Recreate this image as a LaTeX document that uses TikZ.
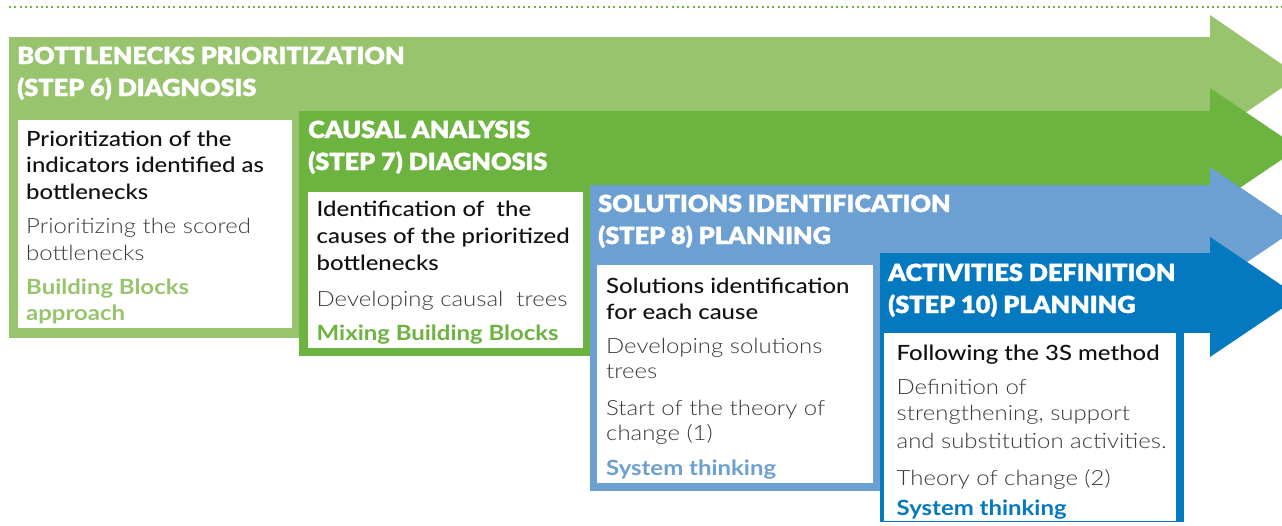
\documentclass[tikz,border=0pt]{standalone}
\usepackage{fontspec}
\setmainfont{Lato}
\newfontfamily\heavyfont{Lato Black}[FakeStretch=1.075,FakeBold=1.3]
\newfontfamily\lightfont{Lato Light}[FakeStretch=1.14]
\newfontfamily\medfont{Lato Medium}[FakeStretch=1.14]
\newfontfamily\boldfont{Lato Bold}[FakeStretch=1.14]
\definecolor{lg}{HTML}{98C46D}
\definecolor{dg}{HTML}{6DB33F}
\definecolor{lb}{HTML}{6CA0D2}
\definecolor{db}{HTML}{0479BF}
\definecolor{txt}{HTML}{111111}
\definecolor{dsc}{HTML}{3A3A3A}
\tikzset{
  hdr/.style={font=\heavyfont\fontsize{23.5}{28}\selectfont, text=white, anchor=base west, inner sep=0pt},
  ttl/.style={font=\medfont\fontsize{21}{26}\selectfont, text=txt, anchor=base west, inner sep=0pt},
  desc/.style={font=\lightfont\fontsize{21}{26}\selectfont, text=dsc, anchor=base west, inner sep=0pt},
  keyw/.style={font=\boldfont\fontsize{21}{26}\selectfont, anchor=base west, inner sep=0pt},
  whitebox/.style={fill=white, draw=none}
}
\begin{document}
\begin{tikzpicture}[x=1pt,y=-1pt]
\useasboundingbox (0,0) rectangle (1282,525);
\clip (0,0) rectangle (1282,525);
% dotted line
\draw[dg, line width=2pt, dash pattern=on 2pt off 3.3pt] (9,7) -- (1282,7);
% arrow 1
\fill[lg] (9,37) rectangle (1210,111);
\fill[lg] (9,37) rectangle (299,338);
\fill[lg] (1210,15) -- (1299,76) -- (1210,137) -- cycle;
\fill[whitebox] (18,120) rectangle (292,328);
% arrow 2
\fill[dg] (299,111) rectangle (1210,186);
\fill[dg] (299,111) rectangle (590,356);
\fill[dg] (1210,88) -- (1299,148) -- (1210,208) -- cycle;
\fill[whitebox] (308,192) rectangle (583,348);
% arrow 3
\fill[lb] (590,185) rectangle (1210,254);
\fill[lb] (590,185) rectangle (880,491);
\fill[lb] (1210,167) -- (1299,227) -- (1210,287) -- cycle;
\fill[whitebox] (597,265) rectangle (873,483);
% arrow 4
\fill[db] (880,253) rectangle (1210,333);
\fill[db] (880,253) rectangle (1184,522);
\fill[db] (1210,237) -- (1299,297) -- (1210,357) -- cycle;
\fill[whitebox] (884,333) rectangle (1176,520.5);
% panel 1 text
\node[hdr] (h1a) at (17,64) {BOTTLENECKS PRIORITIZATION};
\node[hdr] (h1b) at (17,96) {(STEP 6) DIAGNOSIS};
\node[ttl] (t1a) at (26,146) {Prioritization of the};
\node[ttl] (t1b) at (26,172.5) {indicators identified as};
\node[ttl] (t1c) at (26,199) {bottlenecks};
\node[desc] (d1a) at (26,233.5) {Prioritizing the scored};
\node[desc] (d1b) at (26,260) {bottlenecks};
\node[keyw, text=lg] (k1a) at (26,294.5) {Building Blocks};
\node[keyw, text=lg] (k1b) at (26,320.5) {approach};
% panel 2 text
\node[hdr] (h2a) at (308,138) {CAUSAL ANALYSIS};
\node[hdr] (h2b) at (308,170) {(STEP 7) DIAGNOSIS};
\node[ttl] (t2a) at (316.5,216.7) {Identification of\ \ the};
\node[ttl] (t2b) at (316.5,243.3) {causes of the prioritized};
\node[ttl] (t2c) at (316.5,270.5) {bottlenecks};
\node[desc] (d2a) at (316.5,306.7) {Developing causal\ \ trees};
\node[keyw, text=dg] (k2a) at (316.5,340) {Mixing Building Blocks};
% panel 3 text
\node[hdr] (h3a) at (598,212) {SOLUTIONS IDENTIFICATION};
\node[hdr] (h3b) at (598,244) {(STEP 8) PLANNING};
\node[ttl] (t3a) at (606,293.3) {Solutions identification};
\node[ttl] (t3b) at (606,319.3) {for each cause};
\node[desc] (d3a) at (606,353.3) {Developing solutions};
\node[desc] (d3b) at (606,378.3) {trees};
\node[desc] (d3c) at (606,415) {Start of the theory of};
\node[desc] (d3d) at (606,440.7) {change (1)};
\node[keyw, text=lb] (k3a) at (606,475) {System thinking};
% panel 4 text
\node[hdr] (h4a) at (888,281) {ACTIVITIES DEFINITION};
\node[hdr] (h4b) at (888,313) {(STEP 10) PLANNING};
\node[ttl] (t4a) at (896.5,360) {Following the 3S method};
\node[desc] (d4a) at (896.5,394) {Definition of};
\node[desc] (d4b) at (896.5,420) {strengthening, support};
\node[desc] (d4c) at (896.5,448) {and substitution activities.};
\node[desc] (d4d) at (896.5,485.5) {Theory of change (2)};
\node[keyw, text=db] (k4a) at (896.5,515) {System thinking};
\end{tikzpicture}
\end{document}
